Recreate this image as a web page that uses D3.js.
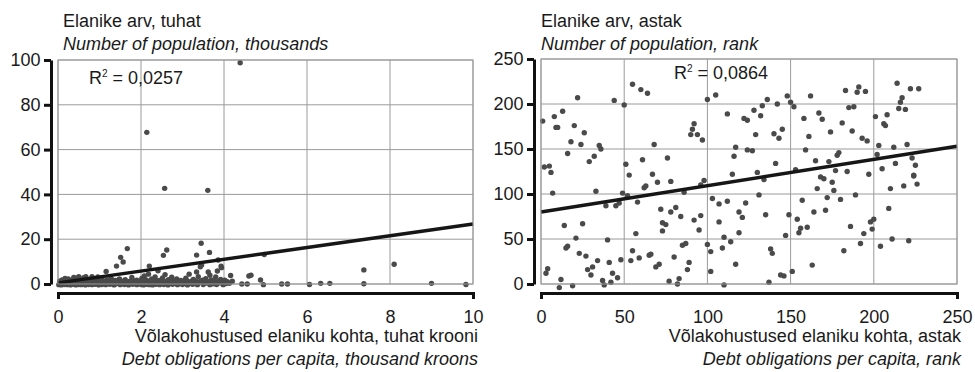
<html>
<head>
<script src="https://d3js.org/d3.v7.min.js"></script>
<style>
  body { margin: 0; background: #fff; }
  text { font-family: "Liberation Sans", Arial, sans-serif; fill: #1a1a1a; }
</style>
</head>
<body>
<div id="chart"></div>
<script>
// left panel: population (thousands) vs debt per capita (thousand kroons)
const popThousandsPoints = [
  [4.39,98.8],[2.14,67.7],[2.57,42.7],[3.61,41.8],
  [1.67,15.8],[2.62,15.2],[3.45,18.2],[2.54,12.8],[3.34,12.9],[3.65,14.1],
  [1.51,11.9],[1.57,9.8],[1.41,8.0],[1.16,5.6],[2.2,8.0],[3.86,10.7],[3.84,5.8],[3.93,7.9],[3.46,8.5],[3.94,7.3],
  [4.16,3.8],[4.6,3.6],[4.65,3.9],[4.88,1.8],[4.97,13.2],[3.34,5.4],[3.62,5.4],[3.66,3.9],
  [7.37,6.3],[8.1,8.8],[7.37,0.1],[9.0,0.3],[9.83,-0.2],[6.55,0.3],[6.33,0.3],[6.06,-0.2],
  [5.53,0.0],[5.39,0.0],[4.95,-0.3],[4.56,0.0],[4.43,0.0],[4.13,0.3],
  [0.17,2.5],[0.82,3.3],[0.5,3.3],[0.38,2.9],[2.41,5.9],[3.43,7.7],[0.67,3.3],[0.96,3.1],
  [0.1,1.8],[0.25,2.2],[0.32,1.6],[0.45,2.6],[0.55,1.9],[0.62,2.8],[0.72,1.7],[0.85,2.4],[0.92,1.5],
  [1.05,2.1],[1.18,1.8],[1.28,2.6],[1.38,1.6],[1.48,2.3],[1.62,1.9],[1.78,2.9],[1.9,1.7],[2.02,2.5],
  [2.08,3.6],[2.12,1.8],[2.18,4.4],[2.26,2.2],[2.34,3.1],[2.44,1.6],[2.52,2.7],[2.58,4.2],[2.66,1.9],
  [2.74,3.0],[2.86,2.2],[2.96,1.6],[3.08,2.6],[3.16,4.4],[3.26,2.0],[3.38,3.3],[3.48,1.7],[3.56,2.4],
  [3.7,1.8],[3.8,3.2],[3.92,2.0],[4.02,1.7],
  [0.02,-0.3],[0.05,0.4],[0.08,-0.4],[0.12,0.2],[0.15,-0.2],[0.2,0.6],[0.22,-0.3],[0.27,0.1],[0.3,-0.4],
  [0.33,0.8],[0.36,-0.1],[0.4,0.3],[0.43,-0.4],[0.47,1.0],[0.5,-0.2],[0.53,0.4],[0.56,-0.3],[0.6,0.9],
  [0.63,0.0],[0.66,-0.4],[0.7,0.5],[0.74,-0.2],[0.78,1.1],[0.82,-0.3],[0.86,0.3],[0.9,-0.1],[0.94,0.7],
  [0.98,-0.4],[1.02,0.2],[1.06,-0.2],[1.1,0.9],[1.15,-0.3],[1.2,0.4],[1.25,-0.1],[1.3,0.6],[1.35,-0.4],
  [1.4,0.1],[1.45,1.0],[1.5,-0.3],[1.55,0.3],[1.6,-0.2],[1.65,0.7],[1.7,-0.4],[1.75,0.2],[1.8,-0.1],
  [1.86,0.8],[1.9,-0.3],[1.95,0.4],[2.0,-0.2],[2.03,1.2],[2.06,-0.4],[2.1,0.5],[2.13,-0.1],[2.16,0.9],
  [2.2,-0.3],[2.24,0.2],[2.28,-0.4],[2.32,0.7],[2.36,-0.1],[2.4,0.3],[2.45,-0.3],[2.5,1.0],[2.55,-0.2],
  [2.6,0.4],[2.65,-0.4],[2.7,0.6],[2.76,-0.1],[2.82,0.2],[2.88,-0.3],[2.94,0.8],[3.0,-0.2],[3.06,0.3],
  [3.12,-0.4],[3.18,0.6],[3.24,-0.1],[3.3,0.2],[3.36,-0.3],[3.42,0.9],[3.5,-0.2],[3.58,0.4],[3.66,-0.3],
  [3.74,0.1],[3.82,-0.2],[3.9,0.5],[3.98,-0.3],[4.05,0.2],
  [0.04,1.2],[0.14,0.9],[0.24,1.4],[0.35,1.1],[0.52,1.5],[0.68,1.3],[0.8,0.6],[0.88,1.2],[1.0,1.4],
  [1.12,1.3],[1.22,1.1],[1.32,1.5],[1.42,1.2],[1.58,1.3],[1.72,1.1],[1.84,1.4],[1.98,1.0],[2.07,1.6],
  [2.15,1.3],[2.22,1.5],[2.3,1.1],[2.38,1.4],[2.48,1.2],[2.62,1.3],[2.72,1.5],[2.8,1.1],[2.9,1.3],
  [3.02,1.2],[3.1,1.5],[3.2,1.1],[3.32,1.4],[3.44,1.2],[3.54,1.5],[3.64,1.1],[3.76,1.3],[3.86,1.2],
  [3.95,1.4],[4.08,1.0],[4.2,1.2]
];
const popThousandsTrend = [[0, 0.5], [10, 26.8]];
const popThousandsR2 = "0,0257";
const debtThousandsTicks = [0, 2, 4, 6, 8, 10];
const popThousandsTicks = [0, 20, 40, 60, 80, 100];

// right panel: population rank vs debt per capita rank
const popRankPoints = [
  [22,207],[44,204],[50,199],[55,222],[60,216],[64,212],[100,205],[105,210],[1,181],[8,186],[13,192],
  [9,174],[10,174],[20,176],[26,168],[18,158],[24,155],[35,154],[36,150],[16,145],[29,136],[32,142],
  [2,130],[5,131],[6,124],[51,133],[61,138],[68,155],[76,140],[53,121],[67,122],[90,166],[91,172],
  [92,178],[94,166],[97,160],[112,189],[122,184],[124,182],[117,152],[124,149],[116,142],[115,122],
  [127,148],[128,193],[132,187],[133,198],[136,205],[142,200],[148,209],[150,202],[152,197],[129,166],
  [140,167],[143,162],[145,172],[141,134],[130,124],[153,127],[162,209],[158,184],[167,190],[169,183],
  [161,164],[174,169],[181,179],[187,170],[183,215],[185,196],[188,197],[190,213],[191,219],[195,214],
  [193,162],[196,159],[159,149],[165,137],[173,136],[178,143],[179,146],[177,126],[184,125],[197,122],
  [201,186],[206,178],[207,176],[208,188],[202,144],[203,154],[205,128],[212,152],[213,134],[214,223],
  [215,195],[216,202],[217,207],[219,194],[220,155],[222,217],[227,217],[223,140],[225,132],[224,121],
  [70,113],[78,114],[62,107],[63,109],[7,101],[33,103],[49,101],[52,98],[39,87],[45,87],[47,90],[58,91],
  [86,102],[96,110],[98,115],[14,65],[25,67],[72,83],[78,80],[81,85],[84,75],[73,68],[75,66],[73,59],
  [57,56],[92,71],[96,76],[95,60],[103,95],[107,89],[112,92],[123,90],[107,69],[119,80],[121,74],
  [110,52],[119,57],[114,47],[21,51],[40,49],[15,40],[16,42],[23,34],[27,31],[34,26],[41,24],[48,27],
  [55,37],[54,26],[59,29],[65,32],[66,33],[69,19],[71,22],[80,30],[85,43],[87,45],[89,24],[88,16],
  [100,44],[102,36],[109,40],[102,14],[117,22],[4,17],[3,12],[12,5],[19,-2],[11,-4],[28,16],[31,19],
  [30,10],[37,4],[38,-1],[42,2],[43,12],[46,7],[77,3],[82,0],[83,6],[110,-1],
  [134,116],[168,119],[170,117],[166,106],[175,113],[176,104],[131,99],[135,77],[149,77],[157,93],
  [154,72],[156,62],[155,57],[160,63],[147,54],[172,96],[180,94],[164,80],[171,82],[189,99],[186,64],
  [194,56],[192,45],[198,69],[200,72],[199,61],[209,84],[210,106],[218,109],[224,120],[226,111],
  [211,50],[221,48],[204,42],[182,37],[163,21],[138,39],[139,34],[151,14],[144,10],[146,9],[137,2]
];
const popRankTrend = [[0, 80], [250, 153]];
const popRankR2 = "0,0864";
const rankTicks = [0, 50, 100, 150, 200, 250];

const width = 975, height = 372;
const fontSize = 18;
const svg = d3.select("#chart").append("svg")
  .attr("width", width)
  .attr("height", height);

function drawPanel(p) {
  const x = d3.scaleLinear().domain(p.xDomain).range([p.left, p.right]);
  const y = d3.scaleLinear().domain(p.yDomain).range([p.bottom, p.top]);
  const g = svg.append("g");

  // grid
  g.selectAll(".vgrid").data(p.xTicks).join("line")
    .attr("x1", d => x(d)).attr("x2", d => x(d))
    .attr("y1", p.top).attr("y2", p.bottom)
    .attr("stroke", "#9a9a9a").attr("stroke-width", 1);
  g.selectAll(".hgrid").data(p.yTicks).join("line")
    .attr("x1", p.left).attr("x2", p.right)
    .attr("y1", d => y(d)).attr("y2", d => y(d))
    .attr("stroke", "#9a9a9a").attr("stroke-width", 1);

  // axes (detached from plot, Excel style)
  const yAxis = g.append("g")
    .attr("transform", `translate(${p.left - 7},0)`)
    .call(d3.axisLeft(y).tickValues(p.yTicks).tickSize(7).tickSizeOuter(0).tickPadding(3.5));
  const xAxis = g.append("g")
    .attr("transform", `translate(0,${p.bottom + 9})`)
    .call(d3.axisBottom(x).tickValues(p.xTicks).tickSize(0).tickSizeOuter(6).tickPadding(17));
  [yAxis, xAxis].forEach(a => {
    a.selectAll("path, line").attr("stroke", "#111").attr("stroke-width", 3);
    a.selectAll("text").attr("font-size", fontSize).attr("fill", "#1a1a1a")
      .attr("font-family", '"Liberation Sans", Arial, sans-serif');
  });

  // points
  g.selectAll(".dot").data(p.points).join("circle")
    .attr("cx", d => x(d[0])).attr("cy", d => y(d[1]))
    .attr("r", 2.7).attr("fill", "#4a4a4a");

  // trend line
  g.append("path")
    .datum(p.trend)
    .attr("fill", "none")
    .attr("stroke", "#161616")
    .attr("stroke-width", 3.5)
    .attr("d", d3.line().x(d => x(d[0])).y(d => y(d[1])));

  // R squared label
  const r2 = g.append("text").attr("x", p.r2x).attr("y", p.r2y).attr("font-size", fontSize);
  r2.append("tspan").text("R");
  r2.append("tspan").attr("font-size", 10).attr("dy", -7).text("2");
  r2.append("tspan").attr("dy", 7).text(" = " + p.r2);

  // titles
  g.append("text").attr("x", p.titleX).attr("y", 27).attr("font-size", fontSize).text(p.yTitle);
  g.append("text").attr("x", p.titleX).attr("y", 50).attr("font-size", fontSize)
    .attr("font-style", "italic").text(p.yTitleEn);
  g.append("text").attr("x", p.xTitleEnd).attr("y", 342).attr("font-size", fontSize)
    .attr("text-anchor", "end").text(p.xTitle);
  g.append("text").attr("x", p.xTitleEnd).attr("y", 365).attr("font-size", fontSize)
    .attr("text-anchor", "end").attr("font-style", "italic").text(p.xTitleEn);

  // plot border
  g.append("rect")
    .attr("x", p.left).attr("y", p.top)
    .attr("width", p.right - p.left).attr("height", p.bottom - p.top)
    .attr("fill", "none").attr("stroke", "#9a9a9a").attr("stroke-width", 1);
}

drawPanel({
  left: 58, right: 473, top: 60, bottom: 284,
  xDomain: [0, 10], yDomain: [0, 100],
  xTicks: debtThousandsTicks, yTicks: popThousandsTicks,
  points: popThousandsPoints, trend: popThousandsTrend,
  r2: popThousandsR2, r2x: 89, r2y: 84,
  titleX: 63,
  yTitle: "Elanike arv, tuhat",
  yTitleEn: "Number of population, thousands",
  xTitleEnd: 478,
  xTitle: "Võlakohustused elaniku kohta, tuhat krooni",
  xTitleEn: "Debt obligations per capita, thousand kroons"
});

drawPanel({
  left: 541, right: 957, top: 59, bottom: 284,
  xDomain: [0, 250], yDomain: [0, 250],
  xTicks: rankTicks, yTicks: rankTicks,
  points: popRankPoints, trend: popRankTrend,
  r2: popRankR2, r2x: 674, r2y: 79,
  titleX: 541,
  yTitle: "Elanike arv, astak",
  yTitleEn: "Number of population, rank",
  xTitleEnd: 961,
  xTitle: "Võlakohustused elaniku kohta, astak",
  xTitleEn: "Debt obligations per capita, rank"
});
</script>
</body>
</html>
